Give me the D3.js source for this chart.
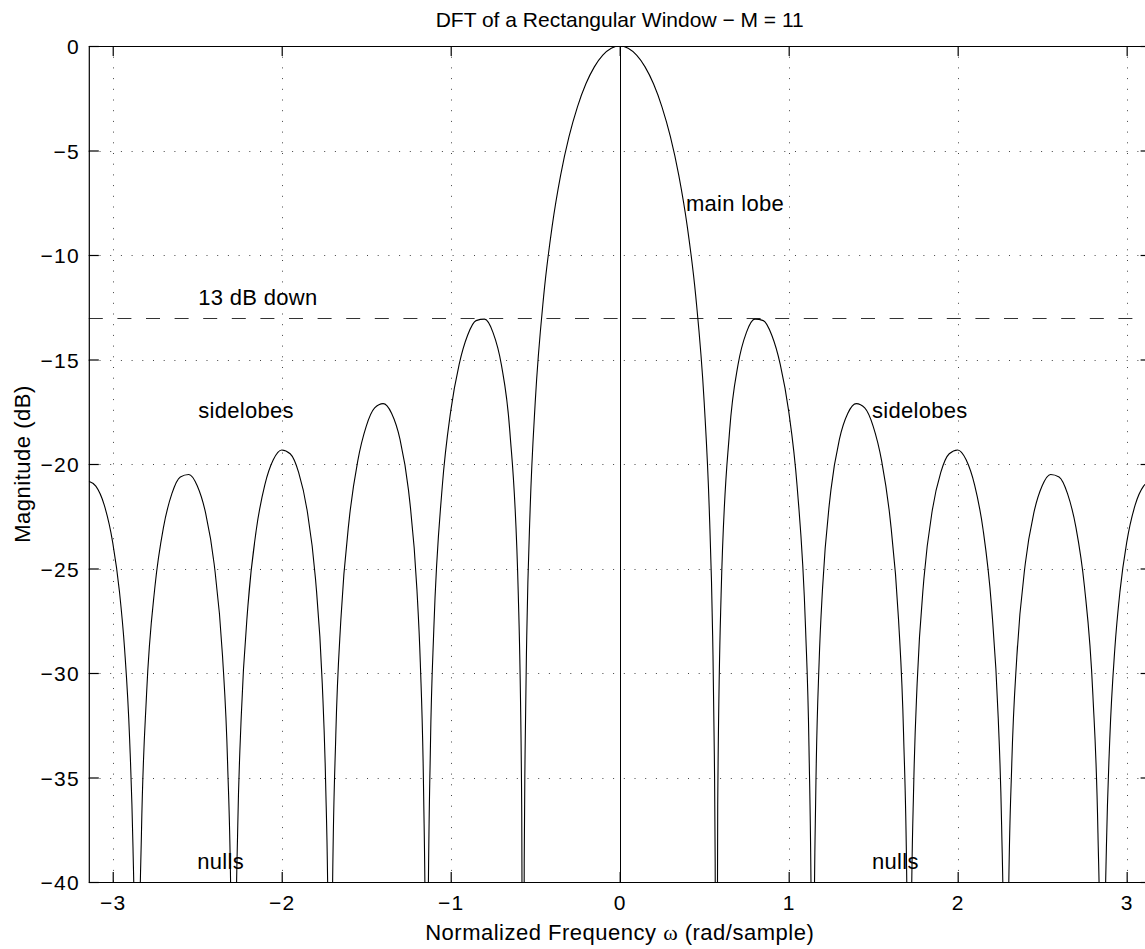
<!DOCTYPE html>
<html>
<head>
<meta charset="utf-8">
<script src="https://cdn.jsdelivr.net/npm/d3@7"></script>
<style>
  body { margin: 0; background: #fff; }
  text { font-family: "Liberation Sans", Arial, Helvetica, sans-serif; fill: #000; }
</style>
</head>
<body>
<div id="chart"></div>
<script>
//* data (positive frequencies, the spectrum is symmetric)
var omegaRight = [0, 0.05, 0.1, 0.15, 0.2, 0.25, 0.3, 0.35, 0.4, 0.45, 0.5, 0.53, 0.55, 0.56, 0.565, 0.5712,
  0.58, 0.6, 0.65, 0.7, 0.75, 0.8, 0.85, 0.9, 0.95, 1.0, 1.05, 1.1, 1.12, 1.135, 1.1424,
  1.15, 1.16, 1.18, 1.2, 1.25, 1.3, 1.35, 1.4, 1.45, 1.5, 1.55, 1.6, 1.65, 1.68, 1.70, 1.7136,
  1.725, 1.74, 1.76, 1.8, 1.85, 1.9, 1.95, 2.0, 2.05, 2.1, 2.15, 2.2, 2.24, 2.26, 2.275, 2.2848,
  2.3, 2.32, 2.35, 2.4, 2.45, 2.5, 2.55, 2.6, 2.65, 2.7, 2.75, 2.8, 2.83, 2.845, 2.856,
  2.87, 2.88, 2.9, 2.93, 2.96, 3.0, 3.05, 3.1, 3.1416]
var magRight = [0, -0.11, -0.44, -1.00, -1.81, -2.91, -4.34, -6.20, -8.64, -11.97, -17.06, -22.17, -28.2, -33.9, -39.1, -60,
  -36.3, -26.28, -18.45, -15.26, -13.70, -13.07, -13.14, -13.84, -15.23, -17.47, -21.08, -27.91, -33.5, -43.2, -60,
  -43.1, -35.9, -29.49, -25.99, -21.24, -18.82, -17.57, -17.11, -17.32, -18.20, -19.85, -22.60, -27.44, -32.98, -40.9, -60,
  -42.5, -35.3, -30.52, -25.50, -22.20, -20.40, -19.51, -19.33, -19.80, -21.00, -23.12, -26.79, -32.17, -37.28, -45.4, -60,
  -41.6, -34.38, -29.22, -24.77, -22.36, -21.04, -20.50, -20.62, -21.42, -23.04, -25.85, -31.04, -37.65, -45.1, -60,
  -43.0, -38.37, -33.17, -28.83, -26.12, -23.76, -21.97, -21.06, -20.83]

var xTicks = [-3, -2, -1, 0, 1, 2, 3]
var yTicks = [0, -5, -10, -15, -20, -25, -30, -35, -40]
var xLimits = [-3.1416, 3.1416]
var yLimits = [-40, 0]
var refLevel = [-13]     // the "13 dB down" line
var stemOmega = [0]      // solid line at w = 0

var labels = [
  {text: "main lobe", w: 0.392, db: -7.9},
  {text: "13 dB down", w: -2.494, db: -12.39},
  {text: "sidelobes", w: -2.494, db: -17.8},
  {text: "sidelobes", w: 1.493, db: -17.8},
  {text: "nulls", w: -2.5, db: -39.4},
  {text: "nulls", w: 1.493, db: -39.4}
]

var W = 1145, H = 949
var plotL = 88.8, plotR = 1150.6, plotT = 46, plotB = 882

var x = d3.scaleLinear().domain(xLimits).range([plotL, plotR])
var y = d3.scaleLinear().domain(yLimits).range([plotB, plotT])

var svg = d3.select("#chart").append("svg").attr("width", W).attr("height", H)
svg.append("rect").attr("width", W).attr("height", H).attr("fill", "#fff")

svg.append("clipPath").attr("id", "plotclip").append("rect")
  .attr("x", plotL).attr("y", plotT).attr("width", plotR - plotL).attr("height", plotB - plotT)

//* grid
var grid = svg.append("g").attr("stroke", "#444").attr("stroke-width", 1).attr("stroke-dasharray", "1,9.7")
grid.selectAll(".gx").data(xTicks).enter().append("line")
  .attr("x1", d => Math.round(x(d)) + 0.5).attr("x2", d => Math.round(x(d)) + 0.5)
  .attr("y1", plotT).attr("y2", plotB)
grid.selectAll(".gy").data(yTicks).enter().append("line")
  .attr("y1", d => Math.round(y(d)) + 0.5).attr("y2", d => Math.round(y(d)) + 0.5)
  .attr("x1", plotL).attr("x2", plotR)

//* reference line -13 dB
svg.selectAll(".ref").data(refLevel).enter().append("line")
  .attr("x1", plotL).attr("x2", plotR)
  .attr("y1", d => Math.round(y(d)) + 0.5).attr("y2", d => Math.round(y(d)) + 0.5)
  .attr("stroke", "#333").attr("stroke-width", 1.2).attr("stroke-dasharray", "14,14.6")

//* stem at w = 0
svg.selectAll(".stem").data(stemOmega).enter().append("line")
  .attr("x1", d => Math.round(x(d)) + 0.5).attr("x2", d => Math.round(x(d)) + 0.5)
  .attr("y1", y(0)).attr("y2", y(-40))
  .attr("stroke", "#000").attr("stroke-width", 1)

//* the spectrum, mirrored to negative frequencies
var pts = []
for (var i = omegaRight.length - 1; i > 0; i--) pts.push([-omegaRight[i], magRight[i]])
for (var j = 0; j < omegaRight.length; j++) pts.push([omegaRight[j], magRight[j]])

var line = d3.line().x(d => x(d[0])).y(d => y(d[1])).curve(d3.curveMonotoneX)
svg.append("path").datum(pts)
  .attr("clip-path", "url(#plotclip)")
  .attr("d", line)
  .attr("fill", "none").attr("stroke", "#000").attr("stroke-width", 1.1)

//* axes (ticks inside, box on all 4 sides)
var fmt = d3.format("d")
var axB = svg.append("g").attr("transform", "translate(0," + plotB + ")")
  .call(d3.axisBottom(x).tickValues(xTicks).tickFormat(fmt).tickSizeInner(-10).tickSizeOuter(0).tickPadding(13))
var axL = svg.append("g").attr("transform", "translate(" + plotL + ",0)")
  .call(d3.axisLeft(y).tickValues(yTicks).tickFormat(fmt).tickSizeInner(-10).tickSizeOuter(0).tickPadding(9))
var axT = svg.append("g").attr("transform", "translate(0," + plotT + ")")
  .call(d3.axisTop(x).tickValues(xTicks).tickSizeInner(-10).tickSizeOuter(0).tickFormat(""))
var axR = svg.append("g").attr("transform", "translate(" + plotR + ",0)")
  .call(d3.axisRight(y).tickValues(yTicks).tickSizeInner(-10).tickSizeOuter(0).tickFormat(""))

;[axB, axL, axT, axR].forEach(a => {
  a.selectAll("path, line").attr("stroke", "#000").attr("stroke-width", 1.2)
  a.selectAll("text").attr("font-size", 21).attr("letter-spacing", 1.2)
    .attr("font-family", "Liberation Sans, Arial, sans-serif").attr("fill", "#000")
})
axL.selectAll(".tick text").attr("dy", "0.36em")

//* titles
svg.append("text").attr("x", x(0)).attr("y", 27).attr("text-anchor", "middle")
  .attr("font-size", 21).text("DFT of a Rectangular Window \u2212 M = 11")

var xl = svg.append("text").attr("x", x(0)).attr("y", 940).attr("text-anchor", "middle")
  .attr("font-size", 22).attr("letter-spacing", 0.5)
xl.append("tspan").text("Normalized Frequency ")
xl.append("tspan").attr("font-family", "Liberation Serif, Times New Roman, serif").text("\u03c9")
xl.append("tspan").text(" (rad/sample)")

svg.append("text").attr("transform", "translate(30," + ((plotT + plotB) / 2) + ") rotate(-90)")
  .attr("text-anchor", "middle").attr("font-size", 22).attr("letter-spacing", 0.5).text("Magnitude (dB)")

//* annotations
svg.selectAll(".lab").data(labels).enter().append("text")
  .attr("x", d => x(d.w)).attr("y", d => y(d.db))
  .attr("font-size", 22).attr("letter-spacing", 0.3).text(d => d.text)
</script>
</body>
</html>
